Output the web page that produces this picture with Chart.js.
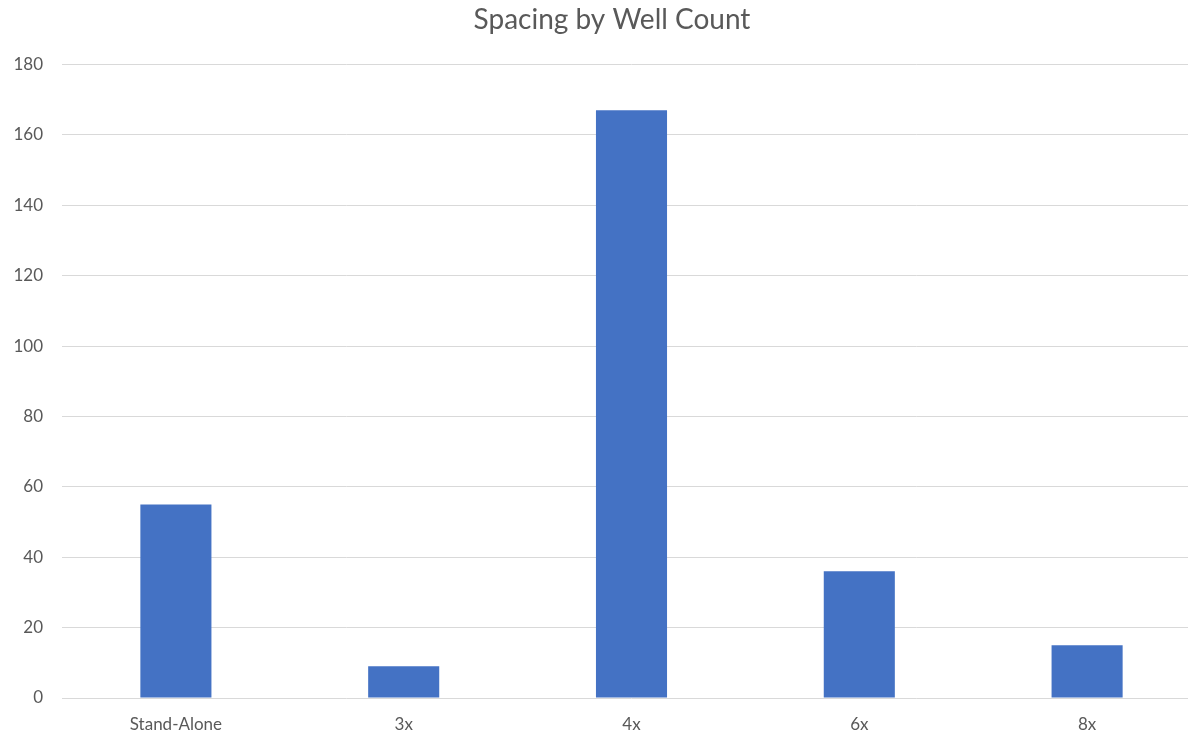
<!DOCTYPE html>
<html>
<head>
<meta charset="utf-8">
<script src="https://cdn.jsdelivr.net/npm/chart.js@4/dist/chart.umd.min.js"></script>
<style>
html,body{margin:0;padding:0;overflow:hidden;background:#fff;width:1188px;height:736px;}
#wrap{width:1224px;height:736px;}
</style>
</head>
<body>
<div id="wrap"><canvas id="c" width="1224" height="736"></canvas></div>
<script>
const categories = ["Stand-Alone", "3x", "4x", "6x", "8x"];
const wellCounts = [55, 9, 167, 36, 15];
const yTicks = [0, 20, 40, 60, 80, 100, 120, 140, 160, 180];

const txt = '#595959';
const fam = 'Lato, "Open Sans", sans-serif';
new Chart(document.getElementById('c'), {
  type: 'bar',
  data: {
    labels: categories,
    datasets: [{
      label: 'Count',
      data: wellCounts,
      backgroundColor: '#4472C4',
      borderWidth: 0,
      barPercentage: 0.312,
      categoryPercentage: 1
    }]
  },
  options: {
    responsive: false,
    animation: false,
    layout: { padding: 0 },
    plugins: {
      legend: { display: false },
      tooltip: { enabled: false },
      title: {
        display: true,
        text: 'Spacing by Well Count',
        color: txt,
        font: { family: fam, size: 28, weight: 'normal' },
        padding: { top: 3, bottom: 28 }
      }
    },
    scales: {
      x: {
        grid: { display: false, drawTicks: false },
        border: { display: false },
        ticks: { color: txt, font: { family: fam, size: 17 }, padding: 16 },
        afterFit: s => { s.height = 38; }
      },
      y: {
        min: 0, max: 180,
        afterBuildTicks: s => { s.ticks = yTicks.map(v => ({ value: v })); },
        grid: { color: '#d9d9d9', lineWidth: 1, drawTicks: false },
        border: { display: false },
        ticks: { color: txt, font: { family: fam, size: 17 }, padding: 19 },
        afterFit: s => { s.width = 62; }
      },
      yRight: {
        position: 'right',
        display: true,
        grid: { display: false, drawTicks: false },
        border: { display: false },
        ticks: { display: false },
        afterFit: s => { s.width = 23; }
      }
    }
  }
});
</script>
</body>
</html>
